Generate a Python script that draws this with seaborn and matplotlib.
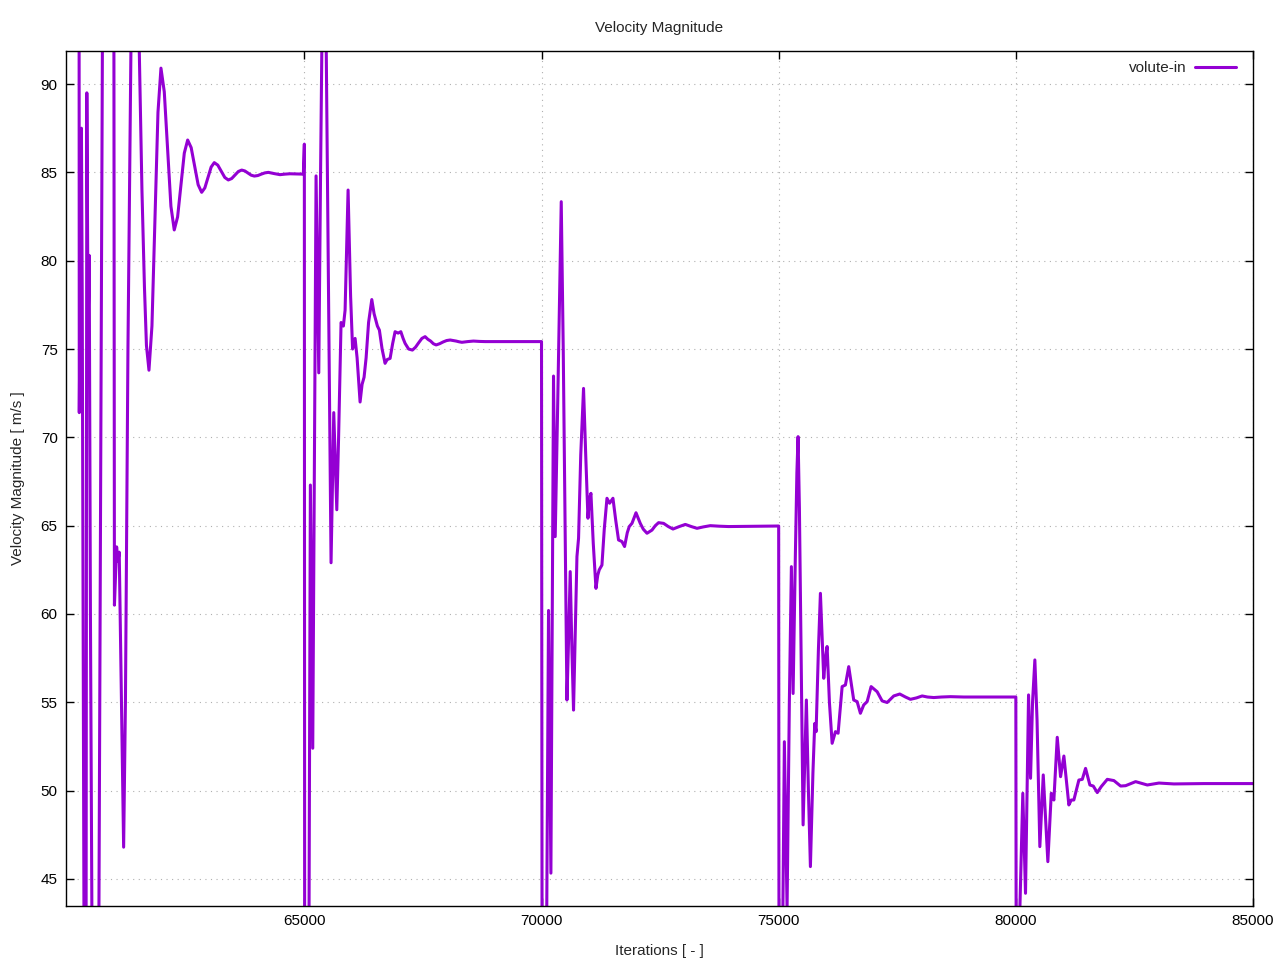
import numpy as np
import pandas as pd
import matplotlib
matplotlib.use("Agg")
import matplotlib.pyplot as plt
import seaborn as sns

# ---- data ----
iter_run1 = [60247, 60255, 60300, 60317, 60352, 60373, 60399, 60414, 60441, 60464,
             60490, 60521, 60574, 60669, 60743, 60859, 60985, 60996, 61042, 61070,
             61097, 61144, 61190, 61228, 61281, 61344, 61428, 61519, 61576, 61629,
             61671, 61724, 61787, 61851, 61914, 61977, 62047, 62117, 62187, 62257,
             62328, 62399, 62469, 62540, 62614, 62688, 62761, 62835, 62902, 62968,
             63035, 63101, 63175, 63249, 63323, 63397, 63468, 63538, 63609, 63679,
             63746, 63812, 63879, 63945, 64019, 64093, 64167, 64241, 64364, 64487,
             64592, 64698, 64979]
vel_run1 = [120, 71.4, 87.5, 78, 43, 30, 43, 89.5, 76, 80.3,
            60, 43, 25, 43, 92.5, 130, 92.5, 60.5, 63.8, 63.0,
            63.5, 55, 46.8, 55, 75, 92, 100, 92, 84, 78.5,
            75.2, 73.8, 76.3, 82.35, 88.4, 90.9, 89.56, 86.32, 83.08, 81.74,
            82.48, 84.29, 86.09, 86.83, 86.4, 85.35, 84.3, 83.87, 84.12, 84.71,
            85.3, 85.55, 85.41, 85.06, 84.71, 84.57, 84.65, 84.85, 85.05, 85.13,
            85.08, 84.96, 84.84, 84.79, 84.82, 84.9, 84.97, 85.0, 84.93, 84.87,
            84.9, 84.92, 84.9]

iter_run2 = [65000, 65006, 65046, 65099, 65127, 65177, 65247, 65304, 65342, 65373,
             65416, 65458, 65563, 65620, 65684, 65722, 65774, 65823, 65859, 65922,
             65975, 66017, 66070, 66112, 66175, 66217, 66259, 66302, 66354, 66422,
             66470, 66540, 66582, 66639, 66702, 66745, 66808, 66861, 66913, 66977,
             67034, 67082, 67124, 67198, 67278, 67343, 67409, 67478, 67546, 67604,
             67662, 67720, 67778, 67852, 67926, 68000, 68074, 68137, 68200, 68260,
             68321, 68443, 68565, 68690, 68812, 68935, 69059, 70000]
vel_run2 = [86.6, 43.0, 25, 43, 67.3, 52.4, 84.8, 73.65, 85, 93,
            105, 93, 62.9, 71.4, 65.9, 70, 76.5, 76.3, 77.2, 84.0,
            78, 75.0, 75.6, 74.5, 72.0, 73.0, 73.4, 74.5, 76.5, 77.8,
            77.0, 76.3, 76.07, 75.0, 74.19, 74.4, 74.47, 75.3, 75.98, 75.9,
            75.98, 75.6, 75.32, 75.0, 74.94, 75.1, 75.35, 75.6, 75.7, 75.55,
            75.45, 75.3, 75.23, 75.3, 75.4, 75.48, 75.51, 75.48, 75.45, 75.41,
            75.38, 75.42, 75.45, 75.43, 75.42, 75.42, 75.42, 75.42]

iter_run3 = [70011, 70046, 70110, 70148, 70198, 70253, 70289, 70342, 70416, 70458,
             70536, 70570, 70605, 70641, 70675, 70711, 70747, 70781, 70827, 70886,
             70932, 70979, 71010, 71042, 71091, 71148, 71186, 71217, 71274, 71323,
             71380, 71435, 71506, 71565, 71624, 71696, 71751, 71808, 71850, 71907,
             71992, 72082, 72146, 72224, 72329, 72399, 72468, 72574, 72673, 72772,
             72905, 73032, 73158, 73278, 73411, 73559, 73749, 73945, 75000]
vel_run3 = [43.0, 30, 43, 60.2, 45.33, 73.47, 64.38, 72, 83.34, 75,
            55.13, 58.5, 62.40, 58, 54.56, 59, 63.25, 64.29, 69, 72.77,
            69, 65.42, 66.5, 66.83, 64, 61.45, 62.2, 62.5, 62.77, 64.8,
            66.55, 66.27, 66.55, 65.3, 64.19, 64.1, 63.82, 64.6, 64.95, 65.13,
            65.73, 65.13, 64.8, 64.57, 64.75, 65.0, 65.17, 65.13, 64.95, 64.81,
            64.95, 65.07, 64.95, 64.85, 64.93, 65.0, 64.97, 64.95, 64.98]

iter_run4 = [75006, 75036, 75088, 75120, 75177, 75225, 75268, 75304, 75331, 75352,
             75384, 75409, 75437, 75515, 75553, 75584, 75627, 75669, 75722, 75760,
             75789, 75838, 75880, 75918, 75950, 75986, 76021, 76070, 76127, 76197,
             76253, 76338, 76407, 76477, 76523, 76582, 76654, 76723, 76793, 76865,
             76949, 77076, 77181, 77287, 77426, 77553, 77673, 77778, 77905, 78025,
             78137, 78270, 78432, 78622, 78903, 80000]
vel_run4 = [43.0, 35, 43, 52.77, 43.3, 55, 62.68, 55.5, 60, 63.35,
            68, 70.04, 66, 48.06, 52, 55.13, 50, 45.7, 51, 53.8,
            53.34, 58, 61.17, 58.5, 56.36, 57.5, 58.16, 55, 52.68, 53.34,
            53.25, 55.89, 55.98, 57.02, 56.2, 55.13, 55.04, 54.38, 54.85, 55.04,
            55.89, 55.6, 55.08, 54.99, 55.36, 55.47, 55.3, 55.17, 55.25, 55.36,
            55.3, 55.27, 55.3, 55.32, 55.30, 55.30]

iter_run5 = [80006, 80046, 80084, 80147, 80204, 80268, 80310, 80352, 80401, 80447,
             80506, 80578, 80675, 80747, 80802, 80873, 80943, 81013, 81118, 81169,
             81223, 81329, 81401, 81470, 81561, 81633, 81717, 81801, 81928, 82067,
             82209, 82314, 82525, 82772, 83017, 83333, 83966, 85000]
vel_run5 = [43.0, 35, 43.2, 49.85, 44.19, 55.42, 50.7, 55, 57.40, 54,
            46.83, 50.89, 45.98, 49.85, 49.47, 53.02, 50.79, 51.96, 49.19, 49.47,
            49.47, 50.6, 50.64, 51.26, 50.32, 50.26, 49.89, 50.23, 50.64, 50.57,
            50.26, 50.28, 50.51, 50.32, 50.43, 50.38, 50.40, 50.40]

x_ticks = [65000, 70000, 75000, 80000, 85000]
y_ticks = [45, 50, 55, 60, 65, 70, 75, 80, 85, 90]

df = pd.DataFrame({
    "Iterations": iter_run1 + iter_run2 + iter_run3 + iter_run4 + iter_run5,
    "Velocity": vel_run1 + vel_run2 + vel_run3 + vel_run4 + vel_run5,
})
df["series"] = "volute-in"

# ---- style ----
sns.set_style("white")
plt.rcParams["font.family"] = ["Liberation Sans", "DejaVu Sans"]
plt.rcParams["font.size"] = 11

fig = plt.figure(figsize=(12.8, 9.6), dpi=100)
ax = fig.add_axes([66 / 1280, 1 - 906 / 960, (1253 - 66) / 1280, (906 - 51) / 960])

sns.lineplot(data=df, x="Iterations", y="Velocity", hue="series",
             palette=["#9400D3"], sort=False, estimator=None,
             linewidth=2.2, ax=ax)

ax.set_xlim(59975, 85000)
ax.set_ylim(43.47, 91.87)
ax.set_xticks(x_ticks)
ax.set_yticks(y_ticks)
ax.set_xticklabels([str(v) for v in x_ticks], fontsize=11)
ax.set_yticklabels([str(v) for v in y_ticks], fontsize=11)

ax.grid(True, which="major", color="#b0b0b0", linestyle=(0, (1, 4)), linewidth=0.8)
ax.set_axisbelow(True)
for s in ax.spines.values():
    s.set_color("black")
    s.set_linewidth(1.0)
ax.tick_params(direction="in", length=6, width=1, top=True, right=True,
               bottom=True, left=True, colors="black", pad=6)

ax.set_xlabel("Iterations [ - ]", fontsize=11, labelpad=11.5)
ax.set_ylabel("Velocity Magnitude [ m/s ]", fontsize=11, labelpad=11)
ax.set_title("Velocity Magnitude", fontsize=11, pad=13.5)

leg = ax.legend(loc="upper right", frameon=False, markerfirst=False,
                handlelength=2.7, handletextpad=0.55, fontsize=11,
                borderaxespad=0, bbox_to_anchor=(1 - 11 / 1187, 1 - 4 / 855))
for h in leg.get_lines():
    h.set_linewidth(2.2)

fig.savefig("out.png", dpi=100, facecolor="white")
